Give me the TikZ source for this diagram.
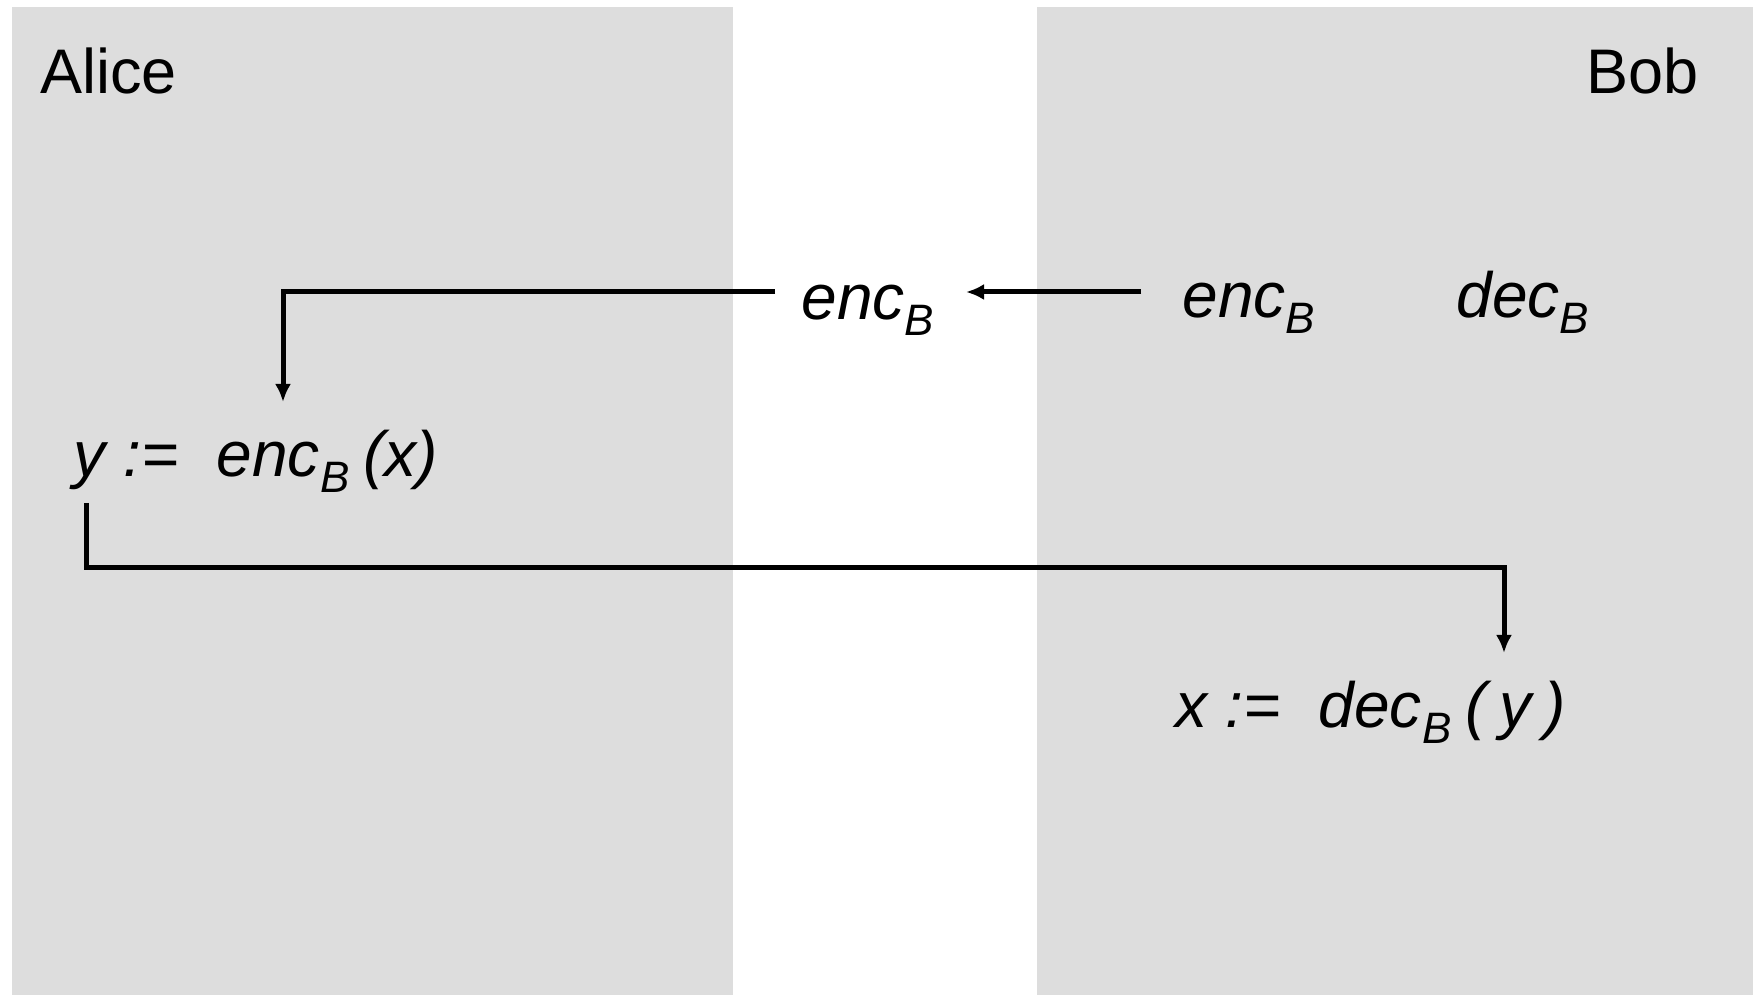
\documentclass[tikz,border=0pt]{standalone}
\usepackage{fontspec}
\setmainfont{Liberation Sans}
\usetikzlibrary{arrows.meta}
\definecolor{panelgray}{RGB}{221,221,221}
\newcommand{\ixsub}[1]{\raisebox{-0.24em}{\fontsize{22}{22}\selectfont #1}}

\begin{document}
\begin{tikzpicture}[x=0.5pt, y=0.5pt, line width=2.5pt,
    lbl/.style={inner sep=0pt, font=\fontsize{31.5}{36}\selectfont},
    fn/.style={inner sep=0pt, font=\fontsize{32}{36}\selectfont\itshape},
    flow/.style={-{Latex[length=9pt,width=8pt]}}]
    \useasboundingbox (0,0) rectangle (1753,995);

    % draw the two panels
    \fill[panelgray] (12,0) rectangle (733,988);
    \fill[panelgray] (1037,0) rectangle (1753,988);

    % draw names
    \node[lbl, anchor=base west] (alice) at (38,901) {Alice};
    \node[lbl, anchor=base east] (bob) at (1701,901) {Bob};

    % draw keys
    \node[fn, anchor=base west] (encpub) at (799,675) {enc\ixsub{B}};
    \node[fn, anchor=base west] (encbob) at (1180,677) {enc\ixsub{B}};
    \node[fn, anchor=base west] (decbob) at (1454,677) {dec\ixsub{B}};

    % draw assignments
    \node[fn, anchor=base west] (yenc) at (71,518) {y :=\hspace{0.6em}enc\ixsub{B}\hspace{0.22em}(x)};
    \node[fn, anchor=base west] (xdec) at (1173,267) {x :=\hspace{0.6em}dec\ixsub{B}\hspace{0.22em}(\hspace{0.2em}y\hspace{0.2em})};

    % draw key transfer
    \draw[flow] ([shift={(-39,26)}]encbob.base west) -- ([shift={(167,28)}]encpub.base west);
    \draw[flow] ([shift={(-24,28)}]encpub.base west) -| ([shift={(212,75)}]yenc.base west);

    % draw ciphertext transfer
    \draw[flow] ([shift={(15,-26)}]yenc.base west) -- ++(0,-65) -| ([shift={(331,75)}]xdec.base west);
\end{tikzpicture}
\end{document}
